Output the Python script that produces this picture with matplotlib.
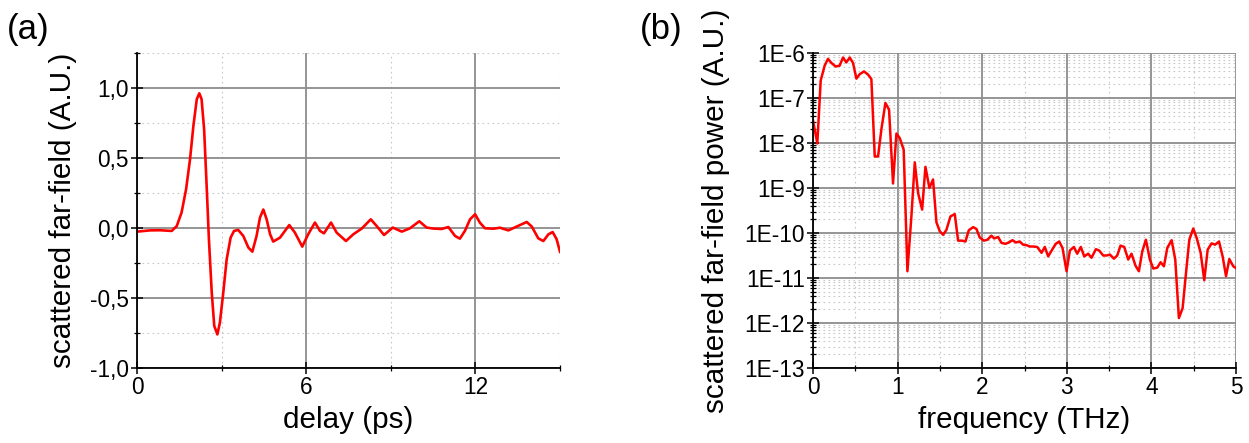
import numpy as np
import matplotlib
matplotlib.use("Agg")
import matplotlib.pyplot as plt
from matplotlib.ticker import MultipleLocator, FuncFormatter, LogLocator, FixedLocator

plt.rcParams['font.family'] = ['Liberation Sans', 'DejaVu Sans']

# ---- panel (a): time-domain far field ----
delay_ps = [0.0, 0.46, 0.816, 1.23, 1.41, 1.58, 1.74, 1.88, 2.00, 2.12, 2.21, 2.29, 2.38, 2.47,
            2.55, 2.65, 2.74, 2.85, 2.94, 3.06, 3.18, 3.32, 3.44, 3.59, 3.77, 3.95, 4.09, 4.24,
            4.36, 4.48, 4.60, 4.72, 4.83, 5.07, 5.40, 5.60, 5.86, 6.07, 6.31, 6.49, 6.63, 6.88,
            7.08, 7.41, 7.67, 7.97, 8.29, 8.50, 8.76, 9.07, 9.39, 9.68, 10.01, 10.27, 10.51,
            10.80, 11.04, 11.28, 11.45, 11.63, 11.81, 11.99, 12.16, 12.34, 12.64, 12.87, 13.17,
            13.46, 13.82, 14.00, 14.23, 14.41, 14.59, 14.74, 14.88, 15.0]
field_au = [-0.026, -0.017, -0.016, -0.021, 0.014, 0.11, 0.276, 0.49, 0.73, 0.92, 0.962, 0.92,
            0.705, 0.30, -0.08, -0.46, -0.70, -0.76, -0.675, -0.46, -0.224, -0.069, -0.021,
            -0.014, -0.057, -0.14, -0.169, -0.057, 0.074, 0.132, 0.06, -0.045, -0.097, -0.069,
            0.021, -0.033, -0.133, -0.045, 0.039, -0.021, -0.038, 0.039, -0.033, -0.093, -0.045,
            -0.004, 0.062, 0.014, -0.05, 0.003, -0.026, -0.002, 0.048, 0.003, -0.004,
            -0.007, 0.007, -0.057, -0.076, -0.02, 0.062, 0.098, 0.038, -0.002, -0.005, 0.002,
            -0.017, 0.01, 0.043, 0.01, -0.074, -0.093, -0.045, -0.029, -0.08, -0.17]

# ---- panel (b): spectrum (values read as log10 of power) ----
freq_thz = [0.0, 0.051, 0.091, 0.138, 0.177, 0.217, 0.268, 0.315, 0.355, 0.394, 0.434, 0.473,
            0.513, 0.552, 0.603, 0.651, 0.690, 0.730, 0.769, 0.808, 0.856, 0.899, 0.946, 0.986,
            1.025, 1.072, 1.116, 1.163, 1.203, 1.242, 1.290, 1.329, 1.376, 1.419, 1.459, 1.498,
            1.538, 1.577, 1.625, 1.676, 1.715, 1.763, 1.802, 1.841, 1.893, 1.932, 1.971, 2.019,
            2.062, 2.109, 2.141, 2.188, 2.228, 2.275, 2.314, 2.358, 2.397, 2.444, 2.484, 2.523,
            2.563, 2.602, 2.650, 2.701, 2.740, 2.780, 2.827, 2.870, 2.910, 2.949, 2.997, 3.036,
            3.084, 3.123, 3.166, 3.206, 3.253, 3.292, 3.344, 3.383, 3.430, 3.470, 3.509, 3.557,
            3.596, 3.635, 3.679, 3.726, 3.765, 3.813, 3.852, 3.892, 3.935, 3.982, 4.022, 4.069,
            4.109, 4.148, 4.188, 4.239, 4.282, 4.325, 4.369, 4.409, 4.448, 4.495, 4.535, 4.582,
            4.625, 4.665, 4.712, 4.752, 4.799, 4.842, 4.882, 4.921, 4.968, 5.0]
power_log10 = [-7.50, -8.01, -6.61, -6.28, -6.13, -6.22, -6.30, -6.28, -6.10, -6.21, -6.10, -6.22,
               -6.57, -6.47, -6.41, -6.48, -6.58, -8.30, -8.30, -7.70, -7.11, -7.26, -8.90, -7.79,
               -7.89, -8.15, -10.85, -9.63, -8.43, -9.11, -9.48, -8.53, -9.00, -8.81, -9.76, -9.96,
               -10.04, -9.93, -9.63, -9.58, -10.17, -10.17, -10.19, -9.94, -9.87, -9.91, -10.10, -10.17,
               -10.15, -10.06, -10.12, -10.09, -10.22, -10.24, -10.21, -10.16, -10.21, -10.19, -10.26, -10.27,
               -10.30, -10.30, -10.31, -10.44, -10.31, -10.52, -10.37, -10.24, -10.19, -10.33, -10.85, -10.39,
               -10.31, -10.46, -10.31, -10.52, -10.46, -10.55, -10.36, -10.39, -10.50, -10.50, -10.48, -10.57,
               -10.50, -10.28, -10.31, -10.59, -10.46, -10.73, -10.85, -10.41, -10.15, -10.59, -10.79, -10.77,
               -10.65, -10.74, -10.33, -10.16, -10.59, -11.89, -11.67, -10.89, -10.15, -9.90, -10.11, -10.44,
               -11.05, -10.37, -10.23, -10.26, -10.19, -10.52, -10.96, -10.58, -10.74, -10.78]

a_yticklabels = ['-1,0', '-0,5', '0,0', '0,5', '1,0']
b_yticklabels = ['1E-13', '1E-12', '1E-11', '1E-10', '1E-9', '1E-8', '1E-7', '1E-6']

W, H = 1249, 443
fig = plt.figure(figsize=(W / 100, H / 100), dpi=100)

def px_axes(l, r, t, b):
    return fig.add_axes([l / W, 1 - b / H, (r - l) / W, (b - t) / H])

ax1 = px_axes(137, 560, 53, 368)
ax2 = px_axes(813, 1236, 53, 368)

red = '#ff0000'
major_grid = dict(color='#8c8c8c', linewidth=1.3, linestyle='-')
minor_grid = dict(color='#c8c8c8', linewidth=0.8, linestyle=(0, (1.5, 3)))

TICK_FS = 16.3
LABEL_FS = 21.3

for ax in (ax1, ax2):
    for s in ('top', 'right'):
        ax.spines[s].set_visible(False)
    for s in ('left', 'bottom'):
        ax.spines[s].set_linewidth(1.3)
        ax.spines[s].set_color('black')
    ax.set_axisbelow(True)
    ax.tick_params(which='major', direction='inout', length=8, width=1.1, labelsize=TICK_FS, pad=2)
    ax.tick_params(which='minor', direction='inout', length=4, width=0.9)

# panel (a)
ax1.plot(delay_ps, field_au, color=red, linewidth=1.9, solid_joinstyle='round')
ax1.set_xlim(0, 15)
ax1.set_ylim(-1.0, 1.25)
ax1.xaxis.set_major_locator(MultipleLocator(6))
ax1.xaxis.set_minor_locator(MultipleLocator(3))
ax1.yaxis.set_major_locator(FixedLocator([-1.0, -0.5, 0.0, 0.5, 1.0]))
ax1.yaxis.set_major_formatter(FuncFormatter(lambda v, p: a_yticklabels[int(round((v + 1.0) / 0.5))]
                                            if -1.01 < v < 1.01 else ''))
ax1.yaxis.set_minor_locator(MultipleLocator(0.25))
ax1.grid(True, which='major', **major_grid)
ax1.grid(True, which='minor', **minor_grid)
ax1.set_xlabel('delay (ps)', fontsize=LABEL_FS, labelpad=5)
ax1.set_ylabel('scattered far-field (A.U.)', fontsize=LABEL_FS, labelpad=9)

# panel (b)
ax2.semilogy(freq_thz, [10 ** v for v in power_log10], color=red, linewidth=1.8)
ax2.set_xlim(0, 5)
ax2.set_ylim(1e-13, 1e-6)
ax2.xaxis.set_major_locator(MultipleLocator(1))
ax2.xaxis.set_minor_locator(MultipleLocator(0.5))
ax2.yaxis.set_major_locator(FixedLocator([10.0 ** e for e in range(-13, -5)]))
ax2.yaxis.set_major_formatter(FuncFormatter(
    lambda v, p: b_yticklabels[int(round(np.log10(v))) + 13] if 1e-13 * 0.9 < v < 1e-6 * 1.1 else ''))
ax2.yaxis.set_minor_locator(LogLocator(base=10, subs=np.arange(2, 10), numticks=100))
ax2.yaxis.set_minor_formatter(FuncFormatter(lambda v, p: ''))
ax2.grid(True, which='major', **major_grid)
ax2.grid(True, which='minor', **minor_grid)
ax2.set_xlabel('frequency (THz)', fontsize=LABEL_FS, labelpad=5)
ax2.set_ylabel('scattered far-field power (A.U.)', fontsize=LABEL_FS, labelpad=10)

fig.text(7 / W, 1 - 30 / H, '(a)', fontsize=25, ha='left', va='center')
fig.text(640 / W, 1 - 30 / H, '(b)', fontsize=25, ha='left', va='center')

fig.savefig('out.png', dpi=100)
